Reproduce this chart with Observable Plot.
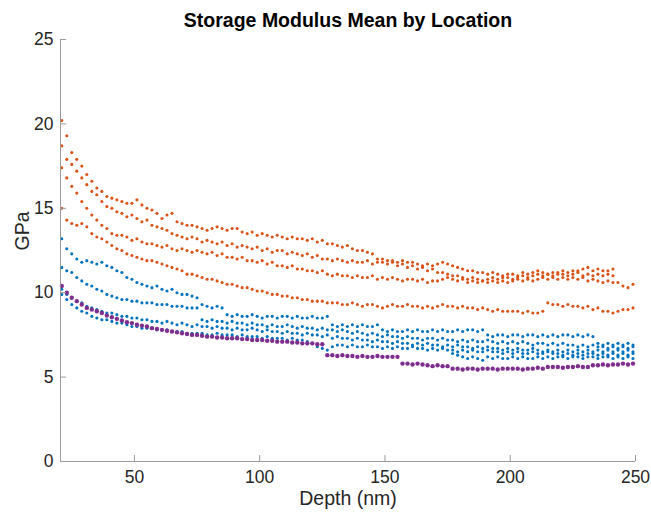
<!DOCTYPE html>
<html><head><meta charset="utf-8">
<script src="https://cdn.jsdelivr.net/npm/d3@7"></script>
<script src="https://cdn.jsdelivr.net/npm/@observablehq/plot@0.6"></script>
<style>body{margin:0;background:#fff}</style>
</head><body><div id="chart"></div>
<script>
const title = "Storage Modulus Mean by Location";
const xLabel = "Depth (nm)";
const yLabel = "GPa";
const xTicks = [50, 100, 150, 200, 250];
const yTicks = [0, 5, 10, 15, 20, 25];

const depth = [21,23,25,27,29,31,33,35,37,39,41,43,45,47,49,51,53,55,57,59,61,63,65,67,69,71,73,75,77,79,81,83,85,87,89,91,93,95,97,99,101,103,105,107,109,111,113,115,117,119,121,123,125,127,129,131,133,135,137,139,141,143,145,147,149,151,153,155,157,159,161,163,165,167,169,171,173,175,177,179,181,183,185,187,189,191,193,195,197,199,201,203,205,207,209,211,213,215,217,219,221,223,225,227,229,231,233,235,237,239,241,243,245,247,249];
const depthLate = [177,179,181,183,185,187,189,191,193,195,197,199,201,203,205,207,209,211,213,215,217,219,221,223,225,227,229,231,233,235,237,239,241,243,245,247,249];

const orange1 = [20.2,19.3,18.3,17.9,17.5,17.0,16.6,16.2,16.0,15.7,
15.6,15.5,15.4,15.3,15.3,15.5,15.2,15.0,14.9,14.7,
14.4,14.6,14.7,14.2,14.1,14.0,14.0,13.9,13.8,13.7,
13.8,13.9,13.8,13.7,13.8,13.8,13.6,13.5,13.6,13.4,
13.5,13.4,13.3,13.4,13.3,13.2,13.3,13.2,13.2,13.1,
13.2,13.0,13.1,12.9,12.9,12.8,12.7,12.8,12.6,12.5,
12.5,12.4,12.3,12.0,12.0,11.9,11.9,11.8,11.9,11.8,
11.8,11.7,11.6,11.7,11.6,11.7,11.8,11.7,11.6,11.5,
11.4,11.3,11.3,11.2,11.2,11.1,11.2,11.1,11.0,11.1,
11.1,11.0,11.2,11.1,11.2,11.3,11.2,11.1,11.2,11.2,
11.3,11.2,11.3,11.3,11.4,11.5,11.3,11.4,11.3,11.3,
11.4,10.6,10.4,10.3,10.5];
const orange2 = [18.7,17.9,17.6,17.2,16.8,16.4,16.0,15.8,15.4,15.1,
15.0,14.8,14.7,14.5,14.6,14.4,14.2,14.3,14.0,13.9,
13.8,13.7,13.5,13.4,13.3,13.2,13.3,13.2,13.0,13.1,
13.0,12.9,13.0,12.8,12.9,12.7,12.8,12.7,12.6,12.7,
12.5,12.6,12.4,12.5,12.5,12.3,12.4,12.3,12.2,12.3,
12.1,12.2,12.0,12.0,11.9,12.0,11.9,11.8,11.9,11.8,
11.8,11.9,11.7,11.8,11.8,11.7,11.8,11.6,11.7,11.5,
11.6,11.4,11.5,11.3,11.4,11.2,11.2,11.1,11.0,11.0,
10.9,10.8,10.9,10.8,10.7,10.8,10.9,10.8,10.9,10.9,
10.8,10.9,11.0,10.9,11.0,11.1,11.0,11.1,11.0,11.1,
11.1,11.0,11.1,11.2,11.0,11.1,11.0,11.1,11.0,11.1,11.0];
const orange3 = [17.4,16.8,16.3,15.9,15.4,15.0,14.6,14.3,14.0,13.8,
13.5,13.4,13.4,13.3,13.1,13.2,13.0,12.9,12.9,12.8,
12.7,12.8,12.6,12.5,12.6,12.5,12.4,12.5,12.4,12.3,
12.4,12.2,12.3,12.1,12.1,12.0,12.1,11.9,11.9,11.8,
11.9,11.7,11.8,11.6,11.6,11.5,11.6,11.4,11.4,11.3,
11.3,11.2,11.3,11.1,11.0,11.1,11.0,11.0,10.9,11.0,
10.9,10.9,11.0,10.8,10.9,10.8,10.9,10.8,10.7,10.8,
10.8,10.7,10.8,10.6,10.7,10.7,10.8,10.9,10.8,10.7,
10.8,10.6,10.7,10.6,10.7,10.6,10.7,10.6,10.7,10.6,
10.7,10.8,10.7,10.8,10.7,10.8,10.9,10.8,10.9,10.8,
10.9,10.8,10.9,10.8,10.9,10.7,10.8,10.7,10.6,10.7,10.6];
const orange4 = [15.0,14.3,14.1,14.0,14.1,13.9,13.5,13.3,13.2,13.0,
12.8,12.6,12.5,12.3,12.2,12.1,12.0,11.9,11.9,11.8,
11.7,11.6,11.5,11.4,11.3,11.1,11.1,11.0,10.9,10.8,
10.8,10.7,10.6,10.5,10.5,10.4,10.3,10.3,10.2,10.1,
10.1,10.0,9.9,9.9,9.8,9.8,9.7,9.7,9.6,9.6,
9.5,9.5,9.5,9.4,9.4,9.4,9.3,9.3,9.4,9.3,
9.2,9.3,9.3,9.2,9.1,9.2,9.3,9.2,9.2,9.3,
9.2,9.2,9.1,9.2,9.1,9.2,9.3,9.2,9.2,9.1,
9.2,9.1,9.1,9.0,9.1,9.0,8.9,9.0,8.9,8.9,
8.9,8.9,8.8,8.9,8.8,8.8,8.9,9.4,9.3,9.3,
9.2,9.3,9.2,9.2,9.1,9.2,9.0,9.1,8.9,8.9,
8.8,8.9,9.0,9.0,9.1];

const blue1 = [13.2,12.6,12.3,12.0,11.8,11.9,11.8,11.7,11.8,11.6,
11.5,11.3,11.2,10.9,10.8,10.6,10.5,10.4,10.3,10.4,
10.2,10.1,10.2,10.0,9.9,9.9,9.8,9.7,9.3,9.2,
9.1,9.2,9.1,8.7,8.6,8.7,8.6,8.6,8.7,8.6,
8.5,8.6,8.6,8.5,8.6,8.6,8.5,8.6,8.5,8.5,
8.6,8.5,8.5,8.6,8.1,8.0,8.1,8.0,8.1,8.0,
8.1,8.0,8.0,8.1,7.8,7.7,7.8,7.7,7.7,7.8,
7.7,7.8,7.7,7.7,7.8,7.7,7.8,7.7,7.7,7.8,
7.7,7.8,7.8,7.7,7.8,7.5,7.4,7.5,7.5,7.4,
7.5,7.5,7.4,7.5,7.5,7.4,7.5,7.4,7.5,7.4,
7.5,7.5,7.4,7.5,7.4,7.5,7.4,7.0,6.9,7.0,
6.9,7.0,6.9,7.0,6.9];
const blue2 = [11.5,11.3,11.2,10.9,10.7,10.5,10.4,10.2,10.1,9.9,
9.8,9.7,9.6,9.6,9.5,9.5,9.4,9.4,9.4,9.3,
9.3,9.3,9.2,9.2,9.2,9.1,9.1,9.1,8.4,8.3,
8.4,8.3,8.3,8.2,8.3,8.2,8.2,8.1,8.2,8.1,
8.1,8.0,8.1,8.0,8.0,8.1,8.0,7.9,8.0,7.9,
7.9,7.8,7.9,7.8,7.8,7.7,7.8,7.7,7.6,7.7,
7.6,7.5,7.6,7.5,7.4,7.5,7.4,7.4,7.3,7.4,
7.3,7.3,7.2,7.3,7.3,7.2,7.3,7.2,7.2,7.1,
7.2,7.1,7.2,7.1,7.1,7.2,7.1,7.0,7.1,7.0,
7.1,7.0,7.1,7.0,6.9,7.0,7.0,6.9,7.0,6.9,
7.0,6.9,6.9,6.8,6.9,6.8,6.9,6.8,6.8,6.7,
6.8,6.7,6.8,6.7,6.8];
const blue3 = [10.2,9.9,9.7,9.5,9.4,9.2,9.1,9.0,8.9,8.8,
8.8,8.7,8.6,8.6,8.5,8.5,8.4,8.4,8.3,8.3,
8.2,8.3,8.2,8.1,8.2,8.1,8.0,8.1,8.0,8.0,
7.9,8.0,7.9,7.9,7.8,7.9,7.8,7.8,7.9,7.8,
7.7,7.8,7.7,7.7,7.6,7.7,7.6,7.6,7.5,7.6,
7.5,7.5,7.4,7.5,7.3,7.4,7.3,7.3,7.2,7.3,
7.2,7.2,7.1,7.2,7.1,7.1,7.0,7.1,7.0,7.0,
6.9,7.0,6.9,7.0,6.9,6.9,6.8,6.9,6.8,6.9,
6.8,6.8,6.7,6.8,6.7,6.8,6.7,6.7,6.6,6.7,
6.6,6.7,6.6,6.6,6.7,6.6,6.5,6.6,6.5,6.6,
6.5,6.6,6.5,6.6,6.5,6.6,6.5,6.6,6.5,6.6,
6.5,6.6,6.5,6.6,6.5];
const blue4 = [9.9,9.6,9.3,9.1,8.9,8.8,8.6,8.5,8.4,8.4,
8.3,8.2,8.2,8.1,8.0,8.0,7.9,7.9,7.9,7.8,
7.8,7.8,7.7,7.7,7.7,7.6,7.6,7.6,7.6,7.5,
7.5,7.6,7.5,7.5,7.5,7.4,7.5,7.4,7.4,7.4,
7.3,7.4,7.3,7.3,7.3,7.2,7.3,7.2,7.2,7.1,
7.0,6.8,6.7,6.6,6.8,6.9,6.9,6.8,6.9,6.8,
6.8,6.9,6.8,6.8,6.7,6.8,6.7,6.8,6.7,6.7,
6.8,6.7,6.7,6.6,6.7,6.6,6.7,6.6,6.6,6.5,
6.6,6.5,6.6,6.5,6.5,6.6,6.5,6.5,6.4,6.5,
6.4,6.5,6.4,6.4,6.5,6.4,6.4,6.5,6.4,6.4,
6.3,6.4,6.3,6.4,6.3,6.4,6.4,6.3,6.4,6.3,
6.4,6.3,6.4,6.3,6.4];
const blue5 = [6.4,6.3,6.2,6.1,6.2,6.1,6.0,6.2,6.1,6.2,
6.1,6.1,6.2,6.1,6.2,6.1,6.1,6.2,6.1,6.2,
6.1,6.2,6.2,6.1,6.2,6.2,6.1,6.2,6.2,6.1,
6.2,6.2,6.1,6.2,6.1,6.2,6.1];

const purple1 = [10.4,10.0,9.7,9.5,9.3,9.1,9.0,8.9,8.8,8.65,
8.55,8.45,8.35,8.25,8.2,8.1,8.05,8.0,7.9,7.85,
7.8,7.75,7.7,7.65,7.6,7.55,7.5,7.5,7.45,7.4,
7.4,7.35,7.35,7.3,7.3,7.3,7.25,7.25,7.2,7.2,
7.2,7.15,7.15,7.1,7.1,7.1,7.05,7.05,7.0,7.0,
7.0,6.95,6.95,
6.3,6.3,6.25,6.3,6.25,6.25,6.2,6.25,6.2,6.2,6.25,6.2,6.2,6.2,6.2,
5.8,5.8,5.75,5.8,5.75,
5.7,5.65,5.7,5.65,5.65,
5.5,5.5,5.45,5.5,5.5,5.45,5.5,5.5,5.5,5.45,5.5,5.5,5.5,5.5,5.45,5.5,5.5,5.55,5.5,
5.6,5.6,5.6,5.55,5.6,5.6,5.65,5.6,5.6,
5.7,5.7,5.75,5.7,5.75,5.75,5.8,5.75,5.8];

const groupNames = ["Location A", "Location B", "Location C"];
const groupColors = ["#0072BD", "#D95319", "#7E2F8E"];
const series = [
  {group: "Location A", x: depth, values: blue1},
  {group: "Location A", x: depth, values: blue2},
  {group: "Location A", x: depth, values: blue3},
  {group: "Location A", x: depth, values: blue4},
  {group: "Location A", x: depthLate, values: blue5},
  {group: "Location B", x: depth, values: orange1},
  {group: "Location B", x: depth, values: orange2},
  {group: "Location B", x: depth, values: orange3},
  {group: "Location B", x: depth, values: orange4},
  {group: "Location C", x: depth, values: purple1}
];
const points = [];
for (const s of series) s.values.forEach((v, i) => points.push({depth: s.x[i], gpa: v, group: s.group}));

const W = 651, H = 514, mt = 39, mr = 16, mb = 53, ml = 60;
const frameW = W - ml - mr, frameH = H - mt - mb;
const axisColor = "#9a9a9a";
const textColor = "#262626";

const chart = Plot.plot({
  width: W, height: H,
  marginTop: mt, marginRight: mr, marginBottom: mb, marginLeft: ml,
  style: {fontFamily: "'Liberation Sans', Arial, Helvetica, sans-serif", fontSize: "17.5px", color: textColor, background: "#fff"},
  x: {domain: [20.5, 250]},
  y: {domain: [0, 25]},
  color: {type: "ordinal", domain: groupNames, range: groupColors},
  marks: [
    Plot.dot(points.filter(d => d.group === "Location A"), {x: "depth", y: "gpa", r: 1.55, fill: "group", stroke: null}),
    Plot.dot(points.filter(d => d.group === "Location B"), {x: "depth", y: "gpa", r: 1.55, fill: "group", stroke: null}),
    Plot.dot(points.filter(d => d.group === "Location C"), {x: "depth", y: "gpa", r: 2.2, fill: "group", stroke: null}),
    Plot.ruleY([0], {stroke: axisColor}),
    Plot.ruleX([20.5], {stroke: axisColor}),
    Plot.ruleX(xTicks, {stroke: axisColor, insetTop: frameH - 6}),
    Plot.ruleY(yTicks, {stroke: axisColor, insetRight: frameW - 6}),
    Plot.axisX({ticks: xTicks, tickSize: 0, tickPadding: 9, label: null}),
    Plot.axisY({ticks: yTicks, tickSize: 0, tickPadding: 7, label: null}),
    Plot.text([xLabel], {text: d => d, frameAnchor: "bottom", lineAnchor: "middle", dy: 37, fontSize: 19.5, fill: textColor}),
    Plot.text([yLabel], {text: d => d, frameAnchor: "left", lineAnchor: "middle", dx: -38, rotate: -90, fontSize: 19.5, fill: textColor}),
    Plot.text([title], {text: d => d, frameAnchor: "top", lineAnchor: "middle", dy: -19, fontSize: 19.5, fontWeight: "bold", fill: "#000"})
  ]
});
document.getElementById("chart").append(chart);
</script>
</body></html>
